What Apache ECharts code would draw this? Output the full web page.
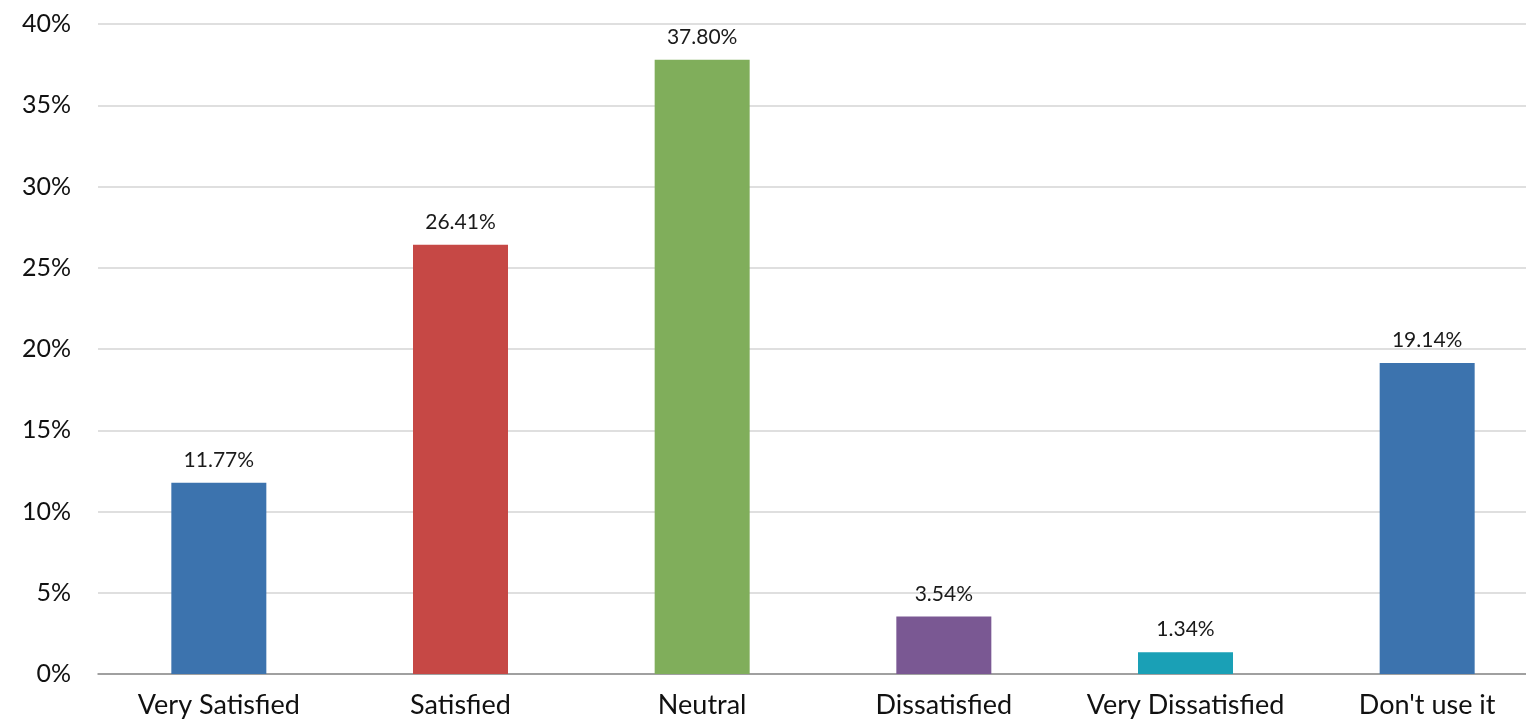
<!DOCTYPE html>
<html>
<head>
<meta charset="utf-8">
<script src="https://cdn.jsdelivr.net/npm/echarts@6/dist/echarts.min.js"></script>
<style>
  html, body { margin: 0; padding: 0; background: #fff; overflow: hidden; }
  #wrap { width: 1526px; height: 726px; overflow: hidden; }
  #chart { width: 1560px; height: 726px; }
</style>
</head>
<body>
<div id="wrap"><div id="chart"></div></div>
<script>
// Satisfaction survey: share of respondents per answer
const categories = ['Very Satisfied', 'Satisfied', 'Neutral', 'Dissatisfied', 'Very Dissatisfied', "Don't use it"];
const shares = [11.77, 26.41, 37.80, 3.54, 1.34, 19.14];
const barColors = ['#3C73AE', '#C64845', '#80AE5B', '#7A5893', '#1AA0B6', '#3C73AE'];
const yTicks = [0, 5, 10, 15, 20, 25, 30, 35, 40];

const chart = echarts.init(document.getElementById('chart'), null, { renderer: 'canvas' });
const FONT = 'Lato, "Open Sans", sans-serif';

chart.setOption({
  animation: false,
  backgroundColor: '#ffffff',
  grid: { left: 98, top: 24, width: 1450, height: 650, containLabel: false },
  xAxis: {
    type: 'category',
    data: categories,
    axisLine: { show: true, lineStyle: { color: '#8c8c8c', width: 1.5 } },
    axisTick: { show: false },
    axisLabel: {
      interval: 0,
      hideOverlap: false,
      color: '#111',
      fontFamily: FONT,
      fontSize: 27,
      margin: 18
    }
  },
  yAxis: {
    type: 'value',
    min: yTicks[0],
    max: yTicks[yTicks.length - 1],
    interval: yTicks[1] - yTicks[0],
    axisLine: { show: false },
    axisTick: { show: false },
    splitLine: { lineStyle: { color: '#d4d4d4', width: 1.5 } },
    axisLabel: { color: '#111', fontFamily: FONT, fontSize: 25, margin: 27, formatter: v => v + '%' }
  },
  series: [{
    type: 'bar',
    barWidth: 95,
    data: shares.map((v, i) => ({ value: v, itemStyle: { color: barColors[i] } })),
    label: {
      show: true,
      position: 'top',
      distance: 12,
      color: '#1a1a1a',
      fontFamily: FONT,
      fontSize: 21,
      formatter: p => p.value.toFixed(2) + '%'
    }
  }]
});
</script>
</body>
</html>
